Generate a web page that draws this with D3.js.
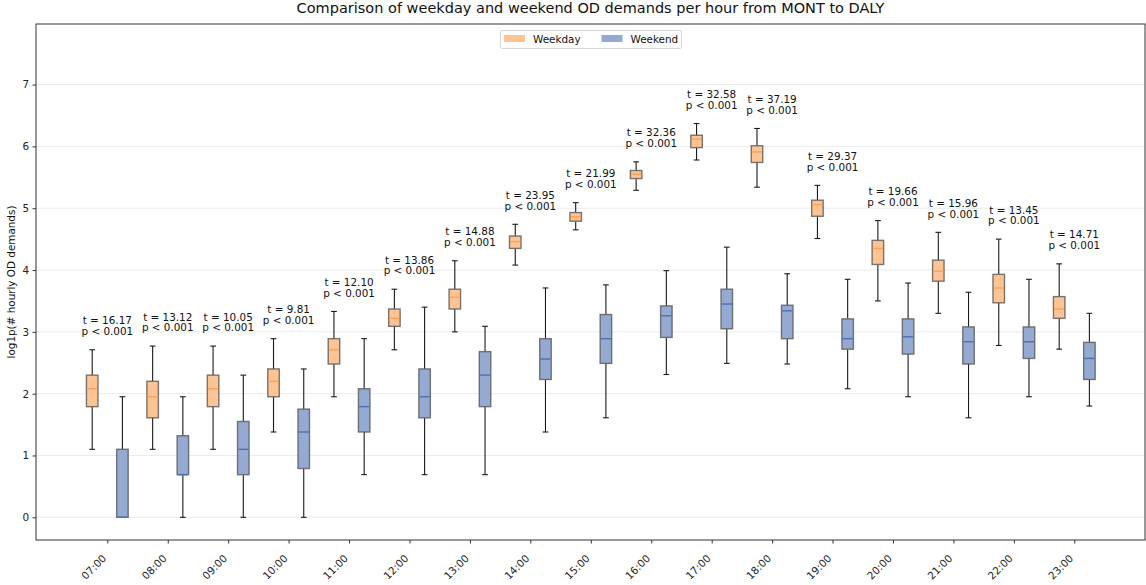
<!DOCTYPE html>
<html>
<head>
<meta charset="utf-8">
<script src="https://cdn.jsdelivr.net/npm/d3@7"></script>
<style>
  html, body { margin: 0; padding: 0; background: #fff; }
  svg { display: block; font-family: "DejaVu Sans", sans-serif; }
</style>
</head>
<body>
<svg id="chart" width="1146" height="585"></svg>
<script>
// ---- data (log1p of hourly OD demands) ----
const hours = ["07:00","08:00","09:00","10:00","11:00","12:00","13:00","14:00","15:00","16:00","17:00","18:00","19:00","20:00","21:00","22:00","23:00"];

const weekdayLo  = [1.10, 1.10, 1.10, 1.38, 1.95, 2.71, 3.00, 4.08, 4.65, 5.29, 5.78, 5.34, 4.51, 3.50, 3.30, 2.78, 2.72];
const weekdayQ1  = [1.79, 1.61, 1.79, 1.95, 2.48, 3.09, 3.37, 4.35, 4.79, 5.48, 5.98, 5.74, 4.87, 4.09, 3.82, 3.47, 3.22];
const weekdayMed = [2.08, 1.95, 2.08, 2.20, 2.71, 3.22, 3.56, 4.46, 4.86, 5.55, 6.12, 5.91, 5.06, 4.35, 3.98, 3.71, 3.37];
const weekdayQ3  = [2.30, 2.20, 2.30, 2.40, 2.89, 3.37, 3.69, 4.55, 4.93, 5.61, 6.18, 6.01, 5.13, 4.48, 4.16, 3.93, 3.57];
const weekdayHi  = [2.71, 2.77, 2.77, 2.89, 3.33, 3.69, 4.15, 4.74, 5.09, 5.75, 6.37, 6.29, 5.37, 4.80, 4.61, 4.50, 4.10];

const weekendLo  = [0.00, 0.00, 0.00, 0.00, 0.69, 0.69, 0.69, 1.38, 1.61, 2.31, 2.49, 2.48, 2.08, 1.95, 1.61, 1.95, 1.80];
const weekendQ1  = [0.00, 0.69, 0.69, 0.79, 1.38, 1.61, 1.79, 2.23, 2.49, 2.91, 3.05, 2.89, 2.72, 2.64, 2.48, 2.57, 2.23];
const weekendMed = [0.00, 0.69, 1.10, 1.38, 1.79, 1.95, 2.30, 2.56, 2.89, 3.26, 3.45, 3.34, 2.89, 2.92, 2.84, 2.84, 2.57];
const weekendQ3  = [1.10, 1.32, 1.55, 1.75, 2.08, 2.40, 2.68, 2.89, 3.28, 3.42, 3.69, 3.43, 3.21, 3.21, 3.08, 3.08, 2.83];
const weekendHi  = [1.95, 1.95, 2.30, 2.40, 2.89, 3.40, 3.09, 3.71, 3.76, 3.99, 4.37, 3.94, 3.85, 3.79, 3.64, 3.85, 3.30];

const tValues = ["16.17","13.12","10.05","9.81","12.10","13.86","14.88","23.95","21.99","32.36","32.58","37.19","29.37","19.66","15.96","13.45","14.71"];
const pLabel = "p < 0.001";

const yTicks = [0, 1, 2, 3, 4, 5, 6, 7];
const seriesNames = ["Weekday", "Weekend"];

// ---- layout ----
const svg = d3.select("#chart");
const mLeft = 36, mRight = 1145, mTop = 24, mBottom = 540;
const fs = "10.4px";

const x = d3.scaleLinear().domain([-1.18, 17.17]).range([mLeft, mRight]);
const y = d3.scaleLinear().domain([-0.367, 7.98]).range([mBottom, mTop]);

const colors = {
  Weekday: { fill: "#ffc491", median: "#ffa054" },
  Weekend: { fill: "#94aad3", median: "#4a6fb5" }
};

// grid
svg.append("g").selectAll("line").data(yTicks).join("line")
  .attr("x1", mLeft).attr("x2", mRight)
  .attr("y1", d => y(d)).attr("y2", d => y(d))
  .attr("stroke", "#ebebeb").attr("stroke-width", 1);

// build box data
function makeBoxes(name, lo, q1, med, q3, hi, offset) {
  return hours.map((h, i) => ({ name, i, pos: i + offset, lo: lo[i], q1: q1[i], med: med[i], q3: q3[i], hi: hi[i] }));
}
const boxes = makeBoxes("Weekday", weekdayLo, weekdayQ1, weekdayMed, weekdayQ3, weekdayHi, -0.25)
  .concat(makeBoxes("Weekend", weekendLo, weekendQ1, weekendMed, weekendQ3, weekendHi, 0.25));

const boxW = x(0.19) - x(0);
const capW = boxW / 2;

const g = svg.append("g");
const bg = g.selectAll("g.box").data(boxes).join("g").attr("class", "box");

// whiskers
bg.append("line")
  .attr("x1", d => x(d.pos)).attr("x2", d => x(d.pos))
  .attr("y1", d => y(d.hi)).attr("y2", d => y(d.q3))
  .attr("stroke", "#1a1a1a").attr("stroke-width", 1.1);
bg.append("line")
  .attr("x1", d => x(d.pos)).attr("x2", d => x(d.pos))
  .attr("y1", d => y(d.q1)).attr("y2", d => y(d.lo))
  .attr("stroke", "#1a1a1a").attr("stroke-width", 1.1);
// caps
bg.append("line")
  .attr("x1", d => x(d.pos) - capW / 2).attr("x2", d => x(d.pos) + capW / 2)
  .attr("y1", d => y(d.hi)).attr("y2", d => y(d.hi))
  .attr("stroke", "#1a1a1a").attr("stroke-width", 1.1);
bg.append("line")
  .attr("x1", d => x(d.pos) - capW / 2).attr("x2", d => x(d.pos) + capW / 2)
  .attr("y1", d => y(d.lo)).attr("y2", d => y(d.lo))
  .attr("stroke", "#1a1a1a").attr("stroke-width", 1.1);
// box
bg.append("rect")
  .attr("x", d => x(d.pos) - boxW / 2)
  .attr("y", d => y(d.q3))
  .attr("width", boxW)
  .attr("height", d => Math.max(0.5, y(d.q1) - y(d.q3)))
  .attr("fill", d => colors[d.name].fill)
  .attr("stroke", "#5f5f5f").attr("stroke-opacity", 0.85).attr("stroke-width", 1.4);
// median
bg.append("line")
  .attr("x1", d => x(d.pos) - boxW / 2 + 0.7).attr("x2", d => x(d.pos) + boxW / 2 - 0.7)
  .attr("y1", d => y(d.med)).attr("y2", d => y(d.med))
  .attr("stroke", d => colors[d.name].median).attr("stroke-width", 1.4);

// annotations
const ann = svg.append("g").attr("font-size", fs).attr("fill", "#111").attr("text-anchor", "middle");
hours.forEach((h, i) => {
  const topVal = Math.max(weekdayHi[i], weekendHi[i]) + 0.2;
  const yy = y(topVal);
  ann.append("text").attr("x", x(i)).attr("y", yy - 13.2).text("t = " + tValues[i]);
  ann.append("text").attr("x", x(i)).attr("y", yy - 2.4).text(pLabel);
});

// axes
const xAxis = d3.axisBottom(x).tickValues(d3.range(hours.length)).tickFormat(i => hours[i]).tickSize(3.5).tickPadding(3);
const xg = svg.append("g").attr("transform", `translate(0,${mBottom})`).call(xAxis);
xg.select(".domain").remove();
xg.selectAll(".tick line").attr("stroke", "#333");
xg.selectAll(".tick text")
  .attr("font-size", fs).attr("font-family", "DejaVu Sans, sans-serif").attr("fill", "#222")
  .attr("text-anchor", "end")
  .attr("x", 0).attr("y", 0).attr("dy", null)
  .attr("transform", "translate(-0.8,19) rotate(-45)");

const yAxis = d3.axisLeft(y).tickValues(yTicks).tickFormat(d3.format("d")).tickSize(3.5).tickPadding(3.5);
const yg = svg.append("g").attr("transform", `translate(${mLeft},0)`).call(yAxis);
yg.select(".domain").remove();
yg.selectAll(".tick line").attr("stroke", "#333");
yg.selectAll(".tick text").attr("font-size", fs).attr("font-family", "DejaVu Sans, sans-serif").attr("fill", "#222");

// frame
svg.append("rect").attr("x", mLeft).attr("y", mTop).attr("width", mRight - mLeft).attr("height", mBottom - mTop)
  .attr("fill", "none").attr("stroke", "#333").attr("stroke-width", 1);

// y label
svg.append("text")
  .attr("transform", `translate(15,${(mTop + mBottom) / 2}) rotate(-90)`)
  .attr("text-anchor", "middle").attr("font-size", fs).attr("fill", "#111")
  .text("log1p(# hourly OD demands)");

// title
svg.append("text")
  .attr("x", (mLeft + mRight) / 2).attr("y", 13)
  .attr("text-anchor", "middle").attr("font-size", "14.5px").attr("fill", "#111")
  .text("Comparison of weekday and weekend OD demands per hour from MONT to DALY");

// legend
const lg = svg.append("g");
lg.append("rect").attr("x", 500.5).attr("y", 30.5).attr("width", 181).attr("height", 18)
  .attr("rx", 2).attr("fill", "#fff").attr("stroke", "#d5d5d5");
const legX = [504, 601.5];
seriesNames.forEach((s, k) => {
  lg.append("rect").attr("x", legX[k]).attr("y", 35).attr("width", 21).attr("height", 7)
    .attr("fill", colors[s].fill);
  lg.append("text").attr("x", legX[k] + 29).attr("y", 43.3).attr("font-size", fs).attr("fill", "#111").text(s);
});
</script>
</body>
</html>
